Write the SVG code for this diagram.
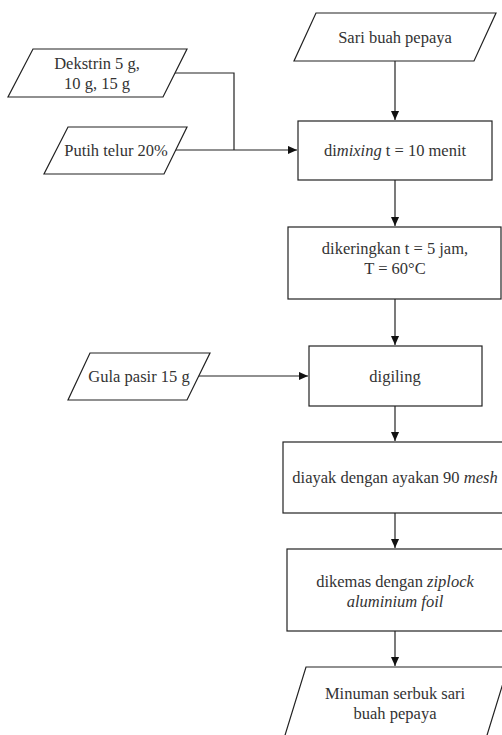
<svg xmlns="http://www.w3.org/2000/svg" width="502" height="735" viewBox="0 0 502 735">
<style>
.s{fill:#fff;stroke:#222;stroke-width:1.2}
.t{font-family:"Liberation Serif","Times New Roman",serif;font-size:16.5px;fill:#333;text-anchor:middle}
.i{font-style:italic}
.c{fill:none;stroke:#222;stroke-width:1.2}
</style>
<defs>
<marker id="ah" viewBox="0 0 10 10" refX="10" refY="5" markerWidth="9" markerHeight="9" markerUnits="userSpaceOnUse" orient="auto">
<path d="M0,0.5 L10,5 L0,9.5 Z" fill="#111"/>
</marker>
</defs>
<rect width="502" height="735" fill="#fff"/>
<g id="connectors">
<path class="c" d="M395,61 V120" marker-end="url(#ah)"/>
<path class="c" d="M395,180 V226" marker-end="url(#ah)"/>
<path class="c" d="M395,299 V345" marker-end="url(#ah)"/>
<path class="c" d="M395,406 V441" marker-end="url(#ah)"/>
<path class="c" d="M395,513 V548" marker-end="url(#ah)"/>
<path class="c" d="M395,631 V666" marker-end="url(#ah)"/>
<path class="c" d="M175,73 H234 V150"/>
<path class="c" d="M175,150 H297" marker-end="url(#ah)"/>
<path class="c" d="M198,376 H308" marker-end="url(#ah)"/>
</g>
<g id="sari">
<polygon class="s" points="316,13 496,13 474,61 294,61"/>
<text class="t" x="395" y="42.5">Sari buah pepaya</text>
</g>
<g id="dekstrin">
<polygon class="s" points="33,49 187,49 163,97 8,97"/>
<text class="t" x="97" y="68.5">Dekstrin 5 g,</text>
<text class="t" x="97" y="88.5">10 g, 15 g</text>
</g>
<g id="putih">
<polygon class="s" points="68,127 187,127 164,174 44,174"/>
<text class="t" x="116" y="155.5">Putih telur 20%</text>
</g>
<g id="dimixing">
<rect class="s" x="298" y="121" width="194" height="59"/>
<text class="t" x="395" y="155.5">di<tspan class="i">mixing</tspan> t = 10 menit</text>
</g>
<g id="dikeringkan">
<rect class="s" x="288" y="227" width="213" height="72"/>
<text class="t" x="395" y="253.5">dikeringkan t = 5 jam,</text>
<text class="t" x="395" y="273.5">T = 60°C</text>
</g>
<g id="gula">
<polygon class="s" points="90,353 210,353 187,400 68,400"/>
<text class="t" x="139" y="381.5">Gula pasir 15 g</text>
</g>
<g id="digiling">
<rect class="s" x="309" y="346" width="173" height="60"/>
<text class="t" x="395" y="381.5">digiling</text>
</g>
<g id="diayak">
<rect class="s" x="283" y="442" width="224" height="71"/>
<text class="t" x="395" y="482.5">diayak dengan ayakan 90 <tspan class="i">mesh</tspan></text>
</g>
<g id="dikemas">
<rect class="s" x="287" y="549" width="217" height="82"/>
<text class="t" x="395" y="586.5">dikemas dengan <tspan class="i">ziplock</tspan></text>
<text class="t i" x="395" y="606.5">aluminium foil</text>
</g>
<g id="minuman">
<polygon class="s" points="306,667 508,667 484,745 282,745"/>
<text class="t" x="395" y="698.5">Minuman serbuk sari</text>
<text class="t" x="395" y="718.5">buah pepaya</text>
</g>
</svg>
